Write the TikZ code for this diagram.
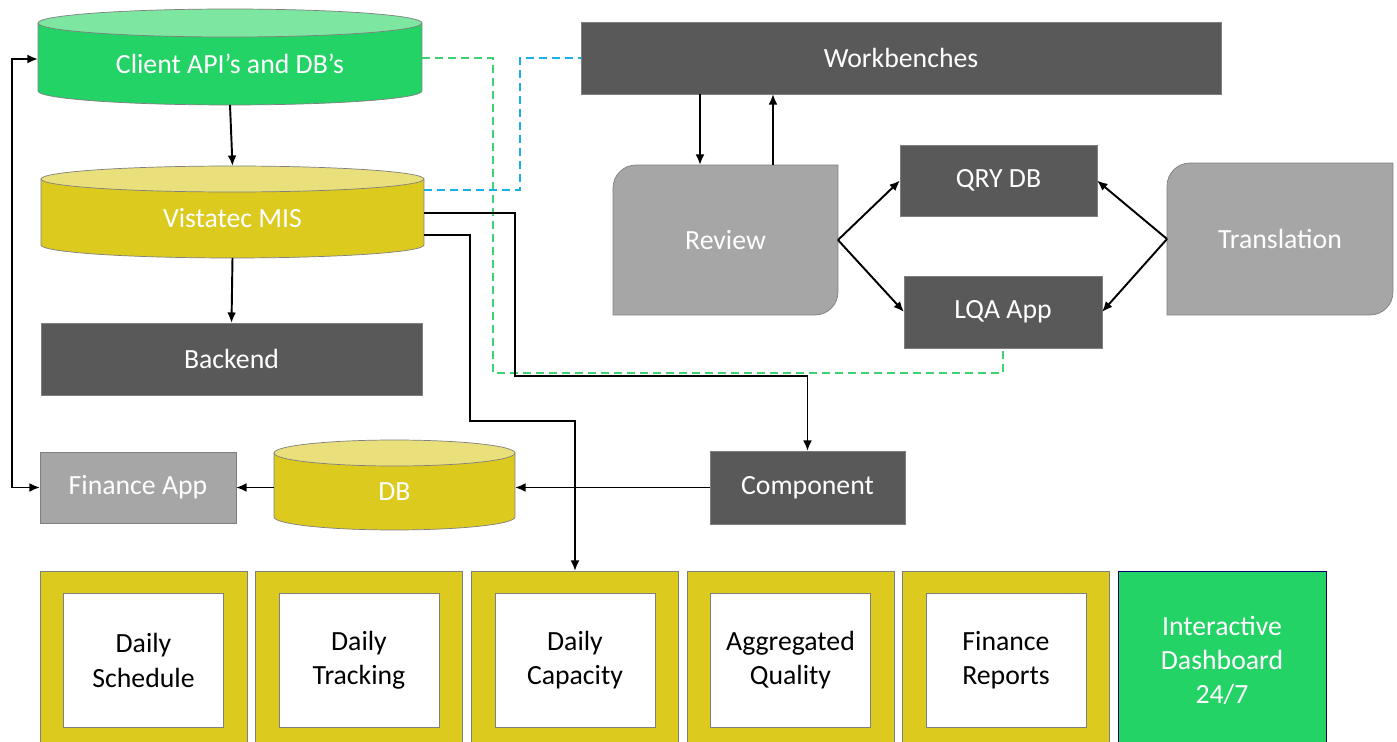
\documentclass[tikz,border=0pt]{standalone}
\usepackage{fontspec}
\setmainfont{Carlito}
\usetikzlibrary{backgrounds,arrows.meta,calc}

\definecolor{darkbox}{HTML}{595959}
\definecolor{lightbox}{HTML}{A6A6A6}
\definecolor{clientgreen}{HTML}{24D366}
\definecolor{clienttop}{HTML}{7DE6A0}
\definecolor{misyellow}{HTML}{DCCA1F}
\definecolor{mistop}{HTML}{E9DF7B}
\definecolor{edge}{HTML}{7F7F7F}
\definecolor{dashgreen}{HTML}{3DD272}
\definecolor{dashblue}{HTML}{1AAFE6}

% cylinder round a body node: node, body colour, top colour, half height of the end
\newcommand{\dbcyl}[4]{%
  \path[draw=edge, fill=#2] let \p1=(#1.west), \p2=(#1.east) in
    (#1.north west) -- ([yshift=#4]#1.south west)
    arc[start angle=180, end angle=360, x radius={(\x2-\x1)/2}, y radius=#4]
    -- (#1.north east) -- cycle;
  \path[draw=edge, fill=#3] let \p1=(#1.west), \p2=(#1.east) in
    (#1.north) ellipse[x radius={(\x2-\x1)/2}, y radius=#4];
}
% box with two rounded corners (top left, bottom right)
\newcommand{\leafbox}[1]{%
  \path[draw=edge, fill=lightbox] (#1.south west) -- ([yshift=-0.46cm]#1.north west)
    arc[start angle=180, end angle=90, radius=0.46cm] -- (#1.north east)
    -- ([yshift=0.46cm]#1.south east) arc[start angle=0, end angle=-90, radius=0.46cm] -- cycle;
}

\begin{document}
\begin{tikzpicture}[x=0.02cm, y=-0.02cm, >={Latex[length=6pt,width=5pt]},
    every node/.style={font=\fontsize{15.8}{19.4}\selectfont, align=center, inner sep=0pt, outer sep=0pt},
    dark/.style={draw=edge, fill=darkbox, text=white},
    light/.style={draw=edge, fill=lightbox, text=white},
    body/.style={text=white},
    frame/.style={draw=edge, fill=misyellow, minimum width=4.14cm, minimum height=3.58cm},
    sheet/.style={draw=edge, fill=white, minimum width=3.2cm, minimum height=2.68cm},
    link/.style={line width=1.1pt},
    dashlink/.style={line width=1.1pt, dash pattern=on 0.16cm off 0.1cm}]
    \useasboundingbox (0,0) rectangle (1397,742);

    % databases
    \node[body, minimum width=7.68cm, minimum height=1.64cm] (client) at (230,64) {Client API’s and DB’s};
    \node[body, minimum width=7.66cm, minimum height=1.58cm] (mis) at (232.5,218.5) {Vistatec MIS};
    \node[body, minimum width=4.82cm, minimum height=1.54cm] (db) at (394.5,491.5) {DB};

    % blocks
    \node[dark, minimum width=7.62cm, minimum height=1.44cm] (backend) at (231.5,359) {Backend};
    \node[light, minimum width=3.92cm, minimum height=1.42cm] (finance) at (138,487.5) {Finance App};
    \node[dark, minimum width=3.9cm, minimum height=1.46cm] (component) at (807.5,487.5) {Component};
    \node[dark, minimum width=12.8cm, minimum height=1.44cm] (workbench) at (901,58) {Workbenches};
    \node[text=white, minimum width=4.5cm, minimum height=3cm] (review) at (725.5,240) {Review};
    \node[dark, minimum width=3.94cm, minimum height=1.42cm] (qry) at (998.5,180.5) {QRY DB};
    \node[dark, minimum width=3.96cm, minimum height=1.44cm] (lqa) at (1003,312) {LQA App};
    \node[text=white, minimum width=4.52cm, minimum height=3.04cm] (translation) at (1280,239) {Translation};

    \begin{scope}[on background layer]
      \fill[white] (0,0) rectangle (1397,742);
      \dbcyl{client}{clientgreen}{clienttop}{0.28cm}
      \dbcyl{mis}{misyellow}{mistop}{0.26cm}
      \dbcyl{db}{misyellow}{mistop}{0.26cm}
      \leafbox{review}
      \leafbox{translation}
    \end{scope}

    % reports
    \foreach \cx/\nm/\txt in {143.5/sched/{Daily\\Schedule}, 359/track/{Daily\\Tracking}, 575/capac/{Daily\\Capacity}, 790.5/qual/{Aggregated\\Quality}, 1006/finrep/{Finance\\Reports}}{
      \node[frame] (\nm) at (\cx,660.5) {};
      \node[sheet] (\nm-in) at (\nm) {\txt};
    }
    \node[draw=blue!40!black, fill=clientgreen, text=white, minimum width=4.16cm, minimum height=3.58cm] (dash) at (1222,660.5) {Interactive\\Dashboard\\24/7};

    % turning points
    \coordinate (greenturn) at (493,373);
    \coordinate (blueturn) at (520,58);
    \coordinate (compturn) at (515,376);
    \coordinate (capturn) at (470,421);
    \coordinate (rvdown) at ([xshift=-0.51cm]review.north);
    \coordinate (rvup) at ([xshift=0.95cm]review.north);

    % dashed links
    \draw[dashlink, dashgreen] ([yshift=0.12cm]client.east) -| (greenturn) -| (lqa.south);
    \draw[dashlink, dashblue] ([yshift=0.57cm]mis.east) -| (blueturn) -- (workbench.west);

    % arrows
    \draw[link, ->] (client.south) -- ([yshift=0.26cm]mis.north);
    \draw[link, ->] (mis.south) -- (backend.north);
    \draw[link, <->] (finance.west) -- ++(-28,0) |- ([yshift=0.1cm]client.west);
    \draw[link, ->] (db.west |- finance.east) -- (finance.east);
    \draw[link, ->] (component.west) -- (db.east |- component.west);
    \draw[link, ->] ([yshift=0.11cm]mis.east) -| (compturn) -| (component.north);
    \draw[link, ->] ([yshift=-0.33cm]mis.east) -| (capturn) -| (capac.north);
    \draw[link, ->] (rvdown |- workbench.south) -- (rvdown);
    \draw[link, ->] (rvup) -- (rvup |- workbench.south);
    \draw[link, ->] (review.east) -- (qry.west);
    \draw[link, ->] (review.east) -- (lqa.west);
    \draw[link, ->] (translation.west) -- (qry.east);
    \draw[link, ->] (translation.west) -- (lqa.east);
\end{tikzpicture}
\end{document}
